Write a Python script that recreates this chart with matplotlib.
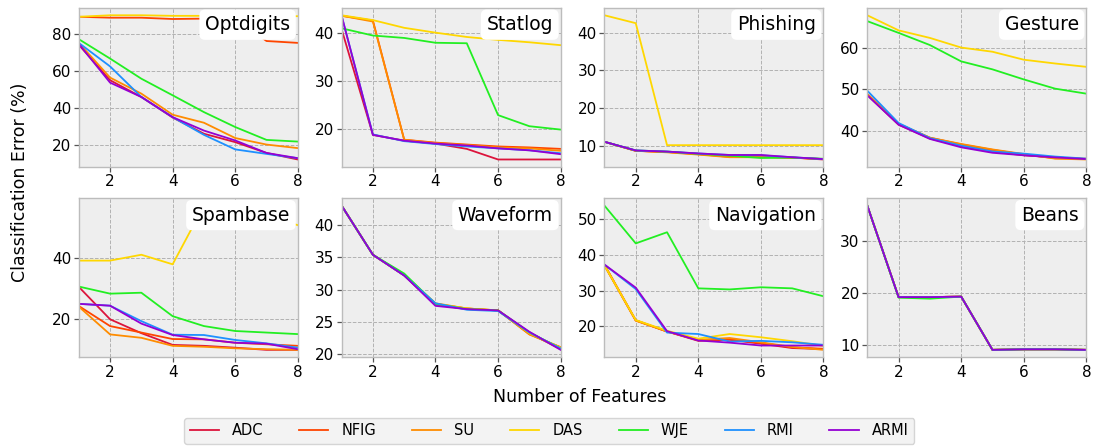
import matplotlib
matplotlib.use("Agg")
import matplotlib.pyplot as plt

x_features = [1, 2, 3, 4, 5, 6, 7, 8]
methods = ["ADC", "NFIG", "SU", "DAS", "WJE", "RMI", "ARMI"]
colors = ["#dc143c", "#ff4500", "#ff8c00", "#ffd700", "#22ee22", "#1e90ff", "#9400d3"]
datasets = ["Optdigits", "Statlog", "Phishing", "Gesture",
            "Spambase", "Waveform", "Navigation", "Beans"]

optdigits = {
    "ADC":  [74.0, 55.0, 46.0, 35.0, 26.3, 21.8, 16.0, 12.5],
    "NFIG": [89.0, 88.5, 88.5, 87.8, 88.0, 88.0, 76.0, 75.0],
    "SU":   [75.0, 56.4, 47.8, 36.5, 32.2, 24.0, 20.5, 18.6],
    "DAS":  [89.0, 89.8, 89.8, 89.5, 89.5, 89.5, 89.5, 89.3],
    "WJE":  [77.0, 66.6, 55.8, 46.9, 37.9, 29.9, 23.0, 22.1],
    "RMI":  [75.0, 62.4, 46.0, 35.2, 25.7, 17.9, 15.5, 13.2],
    "ARMI": [74.5, 53.7, 46.0, 35.2, 28.0, 22.7, 16.0, 13.2],
}
statlog = {
    "ADC":  [40.7, 18.8, 17.6, 17.0, 15.9, 13.7, 13.7, 13.7],
    "NFIG": [43.5, 42.5, 17.8, 17.2, 16.8, 16.4, 16.2, 15.9],
    "SU":   [43.5, 42.3, 17.8, 17.1, 16.7, 16.2, 16.0, 15.5],
    "DAS":  [43.6, 42.6, 41.0, 40.0, 39.1, 38.5, 38.0, 37.4],
    "WJE":  [40.9, 39.4, 38.9, 37.9, 37.8, 22.9, 20.6, 19.9],
    "RMI":  [43.5, 18.9, 17.5, 16.9, 16.4, 16.0, 15.6, 15.0],
    "ARMI": [43.5, 18.8, 17.6, 17.0, 16.6, 16.0, 15.6, 14.8],
}
phishing = {
    "ADC":  [11.0, 8.6, 8.3, 7.8, 7.2, 7.0, 6.8, 6.3],
    "NFIG": [11.0, 8.6, 8.3, 7.7, 7.0, 7.0, 6.8, 6.4],
    "SU":   [11.0, 8.6, 8.2, 7.6, 6.9, 6.9, 6.8, 6.4],
    "DAS":  [44.6, 42.5, 10.1, 10.1, 10.1, 10.1, 10.1, 10.1],
    "WJE":  [11.0, 8.7, 8.4, 7.8, 7.3, 6.7, 6.8, 6.5],
    "RMI":  [11.0, 8.7, 8.4, 7.9, 7.5, 7.4, 6.9, 6.4],
    "ARMI": [11.0, 8.7, 8.4, 7.9, 7.5, 7.5, 6.9, 6.4],
}
gesture = {
    "ADC":  [48.7, 41.6, 38.3, 36.5, 35.2, 34.3, 33.8, 33.4],
    "NFIG": [48.9, 41.8, 38.5, 36.9, 35.6, 34.5, 33.6, 33.5],
    "SU":   [48.9, 41.8, 38.5, 37.0, 35.7, 34.6, 33.5, 33.3],
    "DAS":  [67.7, 64.1, 62.3, 60.0, 59.0, 57.1, 56.2, 55.4],
    "WJE":  [66.3, 63.5, 60.6, 56.7, 54.8, 52.4, 50.2, 49.0],
    "RMI":  [49.7, 42.0, 38.4, 36.6, 35.2, 34.7, 34.0, 33.5],
    "ARMI": [48.6, 41.6, 38.2, 36.2, 34.9, 34.3, 33.8, 33.4],
}
spambase = {
    "ADC":  [30.5, 20.0, 15.5, 11.7, 11.4, 10.8, 10.1, 10.1],
    "NFIG": [24.3, 17.8, 15.7, 13.6, 13.5, 12.4, 11.9, 11.4],
    "SU":   [24.1, 15.1, 14.0, 11.4, 11.1, 10.6, 10.3, 10.1],
    "DAS":  [39.0, 39.0, 40.9, 37.8, 56.8, 55.0, 53.0, 50.5],
    "WJE":  [30.6, 28.3, 28.6, 21.0, 17.8, 16.2, 15.7, 15.2],
    "RMI":  [25.0, 24.4, 19.4, 15.0, 14.9, 13.3, 12.2, 10.8],
    "ARMI": [25.0, 24.4, 18.6, 14.9, 13.5, 12.4, 12.1, 10.3],
}
waveform = {
    "ADC":  [43.0, 35.4, 32.2, 27.7, 27.0, 26.8, 23.3, 20.8],
    "NFIG": [43.0, 35.4, 32.2, 27.8, 27.1, 26.8, 23.1, 21.1],
    "SU":   [43.0, 35.4, 32.3, 27.9, 27.1, 26.8, 23.1, 21.1],
    "DAS":  [43.0, 35.4, 32.3, 27.8, 27.1, 26.8, 23.3, 21.0],
    "WJE":  [43.0, 35.4, 32.5, 27.8, 27.0, 26.8, 23.4, 20.9],
    "RMI":  [43.0, 35.4, 32.2, 27.9, 26.9, 26.7, 23.4, 20.9],
    "ARMI": [43.0, 35.4, 32.2, 27.5, 27.0, 26.8, 23.5, 20.7],
}
navigation = {
    "ADC":  [37.0, 21.7, 18.6, 16.0, 16.3, 15.2, 14.0, 13.7],
    "NFIG": [37.2, 21.7, 18.6, 16.2, 16.4, 15.4, 14.2, 13.8],
    "SU":   [37.0, 21.6, 18.6, 16.3, 16.8, 15.6, 14.3, 13.5],
    "DAS":  [37.0, 21.8, 18.8, 16.6, 17.9, 17.0, 15.9, 14.6],
    "WJE":  [53.6, 43.1, 46.2, 30.6, 30.3, 30.9, 30.6, 28.4],
    "RMI":  [37.2, 30.4, 18.3, 17.9, 15.8, 16.0, 15.6, 14.9],
    "ARMI": [37.2, 30.8, 18.7, 16.1, 15.5, 14.7, 14.7, 14.7],
}
beans = {
    "ADC":  [36.9, 19.2, 19.2, 19.3, 9.0, 9.1, 9.1, 9.0],
    "NFIG": [36.9, 19.2, 19.2, 19.3, 9.0, 9.1, 9.1, 9.0],
    "SU":   [36.9, 19.2, 19.2, 19.3, 9.0, 9.1, 9.1, 9.0],
    "DAS":  [36.9, 19.2, 19.2, 19.3, 9.0, 9.1, 9.1, 9.0],
    "WJE":  [36.9, 19.1, 18.9, 19.3, 9.0, 9.1, 9.1, 9.0],
    "RMI":  [36.9, 19.2, 19.2, 19.3, 9.0, 9.1, 9.1, 9.0],
    "ARMI": [36.9, 19.2, 19.2, 19.3, 9.0, 9.1, 9.1, 9.0],
}
all_data = [optdigits, statlog, phishing, gesture, spambase, waveform, navigation, beans]

plt.rcParams["font.family"] = ["DejaVu Sans"]
fig, axes = plt.subplots(2, 4, figsize=(10.94, 4.48), dpi=100)
fig.subplots_adjust(left=0.072, right=0.993, top=0.982, bottom=0.203,
                    wspace=0.2, hspace=0.2)

for ax, name, data in zip(axes.flat, datasets, all_data):
    ax.set_facecolor("#eeeeee")
    for m, c in zip(methods, colors):
        ax.plot(x_features, data[m], color=c, lw=1.3, label=m)
    ax.set_xlim(1, 8)
    ax.set_xticks([2, 4, 6, 8])
    ax.grid(True, color="#b2b2b2", ls="--", lw=0.7)
    ax.set_axisbelow(True)
    for s in ax.spines.values():
        s.set_color("#bcbcbc")
        s.set_linewidth(1.0)
    ax.tick_params(direction="out", length=3.5, width=0.9, color="#555555",
                   labelsize=11, pad=2)
    ax.text(0.965, 0.955, name, transform=ax.transAxes, ha="right", va="top",
            fontsize=13.5, zorder=10,
            bbox=dict(boxstyle="round,pad=0.3", facecolor="white",
                      edgecolor="none"))

fig.text(0.018, 0.593, "Classification Error (%)", rotation=90,
         ha="center", va="center", fontsize=12.5)
fig.text(0.53, 0.113, "Number of Features", ha="center", va="center",
         fontsize=12.5)

handles, labels = axes[0, 0].get_legend_handles_labels()
leg = fig.legend(handles, labels, loc="center", bbox_to_anchor=(0.502, 0.038),
                 ncol=7, fontsize=10.5, frameon=True, fancybox=True,
                 columnspacing=2.45, handlelength=2.0, handletextpad=0.9,
                 borderpad=0.4)
leg.get_frame().set_facecolor("#f0f0f0")
leg.get_frame().set_edgecolor("#cccccc")

fig.savefig("out.png", dpi=100)
